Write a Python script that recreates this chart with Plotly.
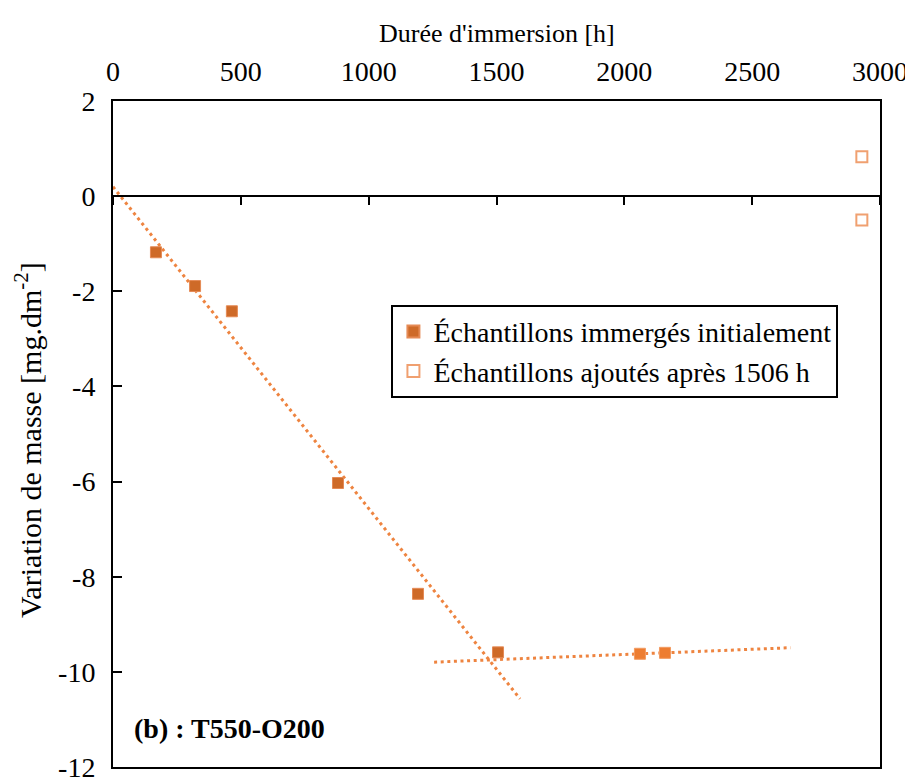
import numpy as np
import plotly.graph_objects as go

# ---- data ----
x_initial = [168, 321, 465, 880, 1193, 1506]
y_initial = [-1.18, -1.89, -2.42, -6.03, -8.36, -9.59]

x_late = [2061, 2159]
y_late = [-9.62, -9.60]

x_added = [2929, 2929]
y_added = [0.83, -0.50]

# trendline 1: linear fit of the initial series, drawn over this x span
trend1_span = [0, 1592]
# trendline 2: coefficients (slope, intercept) and span
trend2_coef = [0.000218, -10.07]
trend2_span = [1256, 2650]

x_ticks = [0, 500, 1000, 1500, 2000, 2500, 3000]
y_ticks = [-12, -10, -8, -6, -4, -2, 0, 2]
y_ticklabels = ["-12", "-10", "-8", "-6", "-4", "-2", "0", "2"]

legend_names = ["Échantillons immergés initialement", "Échantillons ajoutés après 1506 h"]
x_title = "Durée d'immersion [h]"
y_title = "Variation de masse [mg.dm<sup>-2</sup>]"
panel_label = "<b>(b) : T550-O200</b>"

FONT = "Liberation Serif"
DARK = "#CE6A28"
LIGHT = "#ED7D31"
TREND = "#EE8440"

fig = go.Figure()

# trendlines
p1 = np.polyfit(x_initial, y_initial, 1)
t1x = np.array(trend1_span, dtype=float)
fig.add_trace(go.Scatter(x=t1x, y=np.polyval(p1, t1x), mode="lines",
                         line=dict(color=TREND, width=3, dash="3px,3.6px"),
                         showlegend=False, hoverinfo="skip"))
t2x = np.array(trend2_span, dtype=float)
fig.add_trace(go.Scatter(x=t2x, y=np.polyval(trend2_coef, t2x), mode="lines",
                         line=dict(color=TREND, width=3, dash="3px,3.6px"),
                         showlegend=False, hoverinfo="skip"))

fig.add_trace(go.Scatter(x=x_initial, y=y_initial, mode="markers", name=legend_names[0],
                         marker=dict(symbol="square", size=11, color=DARK,
                                     line=dict(color="#E58A55", width=1))))
fig.add_trace(go.Scatter(x=x_late, y=y_late, mode="markers", showlegend=False,
                         marker=dict(symbol="square", size=11, color=LIGHT,
                                     line=dict(color="#F29A60", width=1))))
fig.add_trace(go.Scatter(x=x_added, y=y_added, mode="markers", name=legend_names[1],
                         marker=dict(symbol="square-open", size=11, color="#F0A070",
                                     line=dict(width=2))))

# invisible trace to activate x2 (zero-line axis with downward ticks)
fig.add_trace(go.Scatter(x=[0], y=[0], xaxis="x2", mode="markers",
                         marker=dict(opacity=0), showlegend=False, hoverinfo="skip"))

# page body has an 8px margin; the figure is sized to fit the 913x780 window
fig.update_layout(
    template="none",
    width=905, height=772,
    margin=dict(l=105, r=33, t=93, b=13),
    paper_bgcolor="white", plot_bgcolor="white",
    font=dict(family=FONT, size=28, color="black"),
    xaxis=dict(range=[0, 3000], side="top", tickvals=x_ticks, ticks="",
               showgrid=False, zeroline=False, showline=True, mirror=True,
               linecolor="black", linewidth=2, automargin=False,
               ticklabelstandoff=7, ticklabeloverflow="allow",
               tickfont=dict(family=FONT, size=28)),
    xaxis2=dict(range=[0, 3000], overlaying="x", anchor="free", position=12 / 14,
                side="bottom", tickvals=x_ticks, ticks="outside", ticklen=8,
                tickwidth=2, tickcolor="black", showticklabels=False,
                showline=True, linecolor="black", linewidth=2, automargin=False,
                showgrid=False, zeroline=False),
    yaxis=dict(range=[-12, 2], tickvals=y_ticks, ticktext=y_ticklabels,
               ticks="inside", ticklen=9, tickwidth=2, tickcolor="black",
               showgrid=False, zeroline=False, showline=True, mirror=True,
               linecolor="black", linewidth=2, automargin=False,
               ticklabelstandoff=10, ticklabeloverflow="allow",
               tickfont=dict(family=FONT, size=28)),
    legend=dict(x=0.363, y=0.694, xanchor="left", yanchor="top",
                bordercolor="black", borderwidth=2, bgcolor="white",
                font=dict(family=FONT, size=28), tracegroupgap=0,
                itemsizing="constant"),
    annotations=[
        dict(text=panel_label, x=0.025, y=0.058, xref="paper", yref="paper",
             xanchor="left", yanchor="middle", showarrow=False,
             font=dict(family=FONT, size=28)),
        dict(text=x_title, x=0.5, y=(767 - 33) / 666, xref="paper", yref="paper",
             xanchor="center", yanchor="middle", showarrow=False,
             font=dict(family=FONT, size=26)),
        dict(text=y_title, x=(28 - 113) / 767, y=(767 - 440) / 666,
             xref="paper", yref="paper", xanchor="center", yanchor="middle",
             textangle=-90, showarrow=False, font=dict(family=FONT, size=30)),
    ],
)

fig.write_html("out.html")
